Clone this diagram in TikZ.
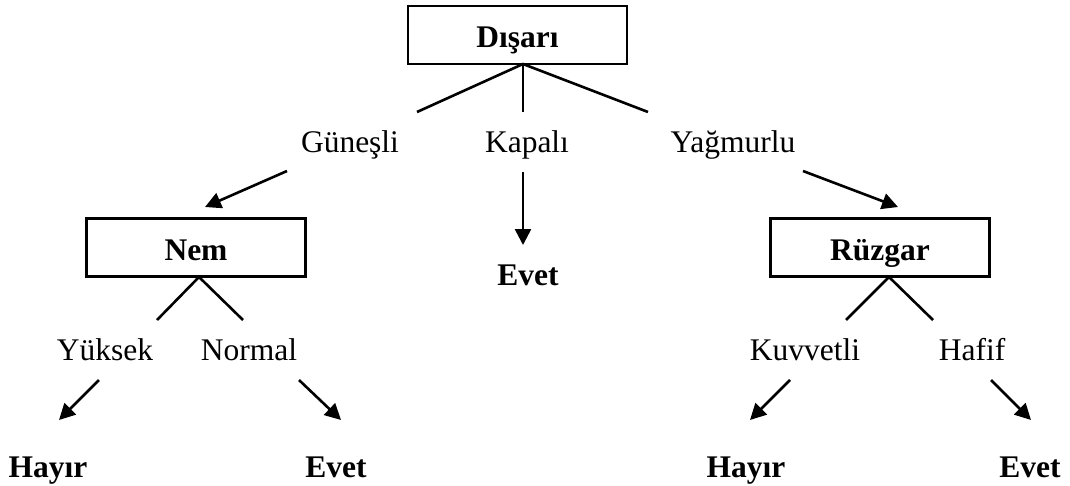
\documentclass[tikz,border=0pt]{standalone}
\usepackage{fontspec}
\setmainfont{Liberation Serif}
\usetikzlibrary{arrows.meta}
\begin{document}
\begin{tikzpicture}[x=1pt,y=-1pt,
  every node/.style={font=\fontsize{31.5}{36}\selectfont},
  decision/.style={draw, line width=2.2pt, minimum width=219pt, minimum height=58pt, inner sep=0pt, text height=25pt, text depth=0pt, font=\fontsize{31.5}{36}\selectfont\bfseries},
  lbl/.style={anchor=base, inner sep=0pt},
  leaf/.style={anchor=base, inner sep=0pt, font=\fontsize{31.5}{36}\selectfont\bfseries},
  branch/.style={line width=2.6pt},
  arr/.style={line width=2.6pt, -{Triangle[length=16pt,width=16pt]}}]
\useasboundingbox (0,0) rectangle (1070,485);
% decision boxes
\node[decision] (dis) at (517.5,35) {Dışarı};
\node[decision] (nem) at (196,247.5) {Nem};
\node[decision] (ruz) at (880,247.5) {Rüzgar};
% branch labels
\node[lbl] (gun) at (350,152) {Güneşli};
\node[lbl] (kap) at (527,152) {Kapalı};
\node[lbl] (yag) at (733,152) {Yağmurlu};
\node[lbl] (yuk) at (105,360) {Yüksek};
\node[lbl] (nor) at (249,360) {Normal};
\node[lbl] (kuv) at (805,360) {Kuvvetli};
\node[lbl] (haf) at (972,360) {Hafif};
% leaves
\node[leaf] (ev1) at (528,285) {Evet};
\node[leaf] (hay1) at (48,477) {Hayır};
\node[leaf] (ev2) at (336,477) {Evet};
\node[leaf] (hay2) at (746,477) {Hayır};
\node[leaf] (ev3) at (1030,477) {Evet};
% connector end points
\coordinate (dA) at (523,64);
\coordinate (dL) at (417,112);
\coordinate (dM) at (523,112);
\coordinate (dR) at (648,112);
\coordinate (gS) at (287,171);
\coordinate (gE) at (205,207);
\coordinate (kS) at (523,172);
\coordinate (kE) at (523,245);
\coordinate (ySt) at (803,171);
\coordinate (yE) at (898,207);
\coordinate (nA) at (199,277);
\coordinate (nL) at (157,320);
\coordinate (nR) at (243,320);
\coordinate (yukS) at (99,380);
\coordinate (yukE) at (59,420);
\coordinate (norS) at (299,380);
\coordinate (norE) at (341,420);
\coordinate (rA) at (889,277);
\coordinate (rL) at (846,320);
\coordinate (rR) at (933,320);
\coordinate (kuvS) at (790,380);
\coordinate (kuvE) at (750,420);
\coordinate (hafS) at (991,380);
\coordinate (hafE) at (1031,420);
% branches
\draw[branch] (dL) -- (dA) -- (dR);
\draw[branch] (dA) -- (dM);
\draw[branch] (nL) -- (nA) -- (nR);
\draw[branch] (rL) -- (rA) -- (rR);
% arrows
\draw[arr] (gS) -- (gE);
\draw[arr] (kS) -- (kE);
\draw[arr] (ySt) -- (yE);
\draw[arr] (yukS) -- (yukE);
\draw[arr] (norS) -- (norE);
\draw[arr] (kuvS) -- (kuvE);
\draw[arr] (hafS) -- (hafE);
\end{tikzpicture}
\end{document}
